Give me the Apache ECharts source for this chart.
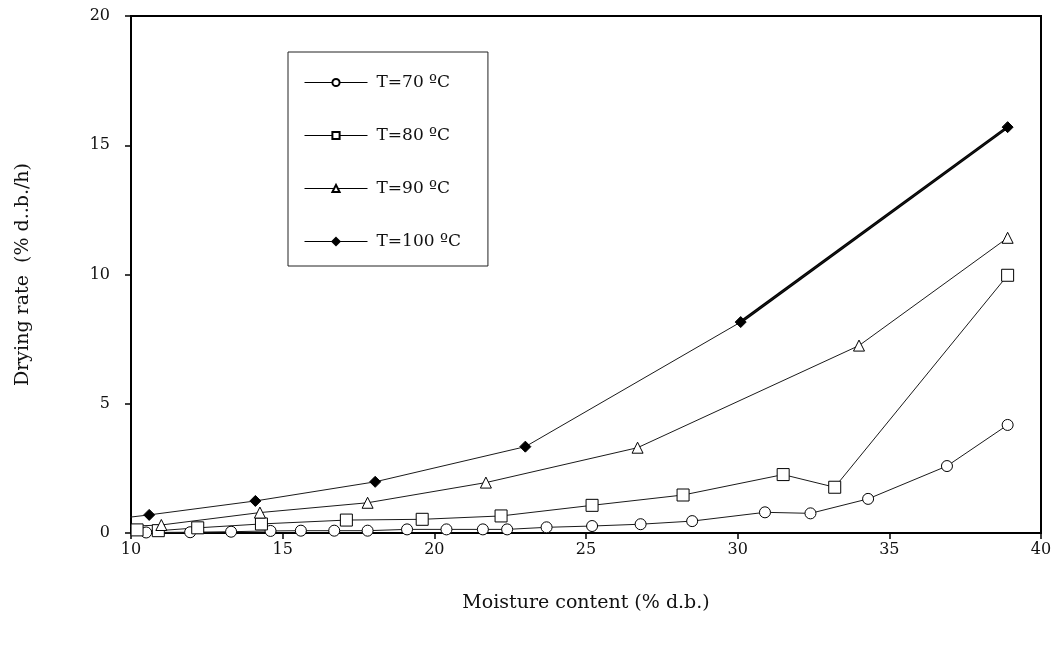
<!DOCTYPE html>
<html>
<head>
<meta charset="utf-8">
<script src="https://cdn.jsdelivr.net/npm/echarts@6/dist/echarts.min.js"></script>
<style>
  html, body { margin: 0; padding: 0; background: #fff; }
  #main { width: 1058px; height: 647px; }
</style>
</head>
<body>
<div id="main"></div>
<script>
// data
var names = ['T=70 ºC', 'T=80 ºC', 'T=90 ºC', 'T=100 ºC'];

var x70 = [10.5, 11.95, 13.3, 14.6, 15.6, 16.7, 17.8, 19.1, 20.4, 21.6, 22.4, 23.7, 25.2, 26.8, 28.5, 30.9, 32.4, 34.3, 36.9, 38.9];
var y70 = [0.02, 0.03, 0.05, 0.08, 0.09, 0.09, 0.09, 0.14, 0.14, 0.14, 0.14, 0.22, 0.27, 0.34, 0.46, 0.8, 0.76, 1.32, 2.59, 4.18];

var x80 = [10.2, 10.9, 12.2, 14.3, 17.1, 19.6, 22.2, 25.2, 28.2, 31.5, 33.2, 38.9];
var y80 = [0.12, 0.09, 0.2, 0.35, 0.5, 0.53, 0.66, 1.07, 1.47, 2.26, 1.77, 9.97];

var x90 = [9.5, 11.0, 14.25, 17.8, 21.7, 26.7, 34.0, 38.9];
var y90 = [0.24, 0.31, 0.79, 1.17, 1.95, 3.3, 7.25, 11.42];

var x100 = [9.5, 10.6, 14.1, 18.05, 23.0, 30.1, 38.9];
var y100 = [0.55, 0.7, 1.24, 1.98, 3.34, 8.16, 15.7];

var xTicks = [10, 15, 20, 25, 30, 35, 40];
var yTicks = [0, 5, 10, 15, 20];

function pairs(xs, ys) {
    return xs.map(function (x, i) { return [x, ys[i]]; });
}

var chart = echarts.init(document.getElementById('main'));
var font = '"DejaVu Serif", "Liberation Serif", serif';

var lineCol = '#1a1a1a';

function makeSeries(name, xs, ys, symbol, size, fill) {
    return {
        name: name,
        type: 'line',
        data: pairs(xs, ys),
        symbol: symbol,
        symbolSize: size,
        showSymbol: true,
        clip: true,
        lineStyle: { color: lineCol, width: 1 },
        itemStyle: { color: fill, borderColor: '#000', borderWidth: 1 },
        emphasis: { disabled: true },
        animation: false
    };
}

var option = {
    backgroundColor: '#fff',
    animation: false,
    grid: {
        left: 131, right: 17, top: 16, bottom: 114,
        show: true, borderColor: '#000', borderWidth: 2, backgroundColor: 'transparent'
    },
    legend: {
        data: names,
        orient: 'vertical',
        left: 288, top: 52,
        padding: [22, 27, 16, 16],
        itemGap: 36,
        itemWidth: 63,
        itemHeight: 9,
        borderColor: '#222',
        borderWidth: 1,
        lineStyle: { width: 1, color: '#000' },
        textStyle: { fontFamily: font, fontSize: 17, color: '#111', lineHeight: 17, padding: [0, 0, 0, 4] }
    },
    xAxis: {
        type: 'value',
        min: 10, max: 40, interval: 5,
        name: 'Moisture content (% d.b.)',
        nameLocation: 'middle',
        nameGap: 61,
        nameTextStyle: { fontFamily: font, fontSize: 19, color: '#111' },
        axisLine: { show: true, onZero: false, lineStyle: { color: '#000', width: 2 } },
        axisTick: { show: true, length: 6, lineStyle: { color: '#000', width: 1.5 } },
        axisLabel: {
            fontFamily: font, fontSize: 16, color: '#111', margin: 9,
            formatter: function (v) { return xTicks.indexOf(v) >= 0 ? String(v) : ''; }
        },
        splitLine: { show: false }
    },
    yAxis: {
        type: 'value',
        min: 0, max: 20, interval: 5,
        name: 'Drying rate  (% d..b./h)',
        nameLocation: 'middle',
        nameGap: 98,
        nameTextStyle: { fontFamily: font, fontSize: 19, color: '#111' },
        axisLine: { show: true, onZero: false, lineStyle: { color: '#000', width: 2 } },
        axisTick: { show: true, length: 6, lineStyle: { color: '#000', width: 1.5 } },
        axisLabel: {
            fontFamily: font, fontSize: 16, color: '#111', margin: 21,
            formatter: function (v) { return yTicks.indexOf(v) >= 0 ? String(v) : ''; }
        },
        splitLine: { show: false }
    },
    series: [
        makeSeries(names[0], x70, y70, 'circle', 11, '#fff'),
        makeSeries(names[1], x80, y80, 'rect', 12, '#fff'),
        makeSeries(names[2], x90, y90, 'triangle', 11, '#fff'),
        makeSeries(names[3], x100, y100, 'diamond', 11, '#000'),
        {
            // the bold last segment of the 100 ºC curve
            name: 'bold',
            type: 'line',
            data: pairs(x100.slice(-2), y100.slice(-2)),
            symbol: 'none',
            lineStyle: { color: '#000', width: 3 },
            emphasis: { disabled: true },
            z: 1,
            animation: false
        }
    ]
};

chart.setOption(option);
</script>
</body>
</html>
